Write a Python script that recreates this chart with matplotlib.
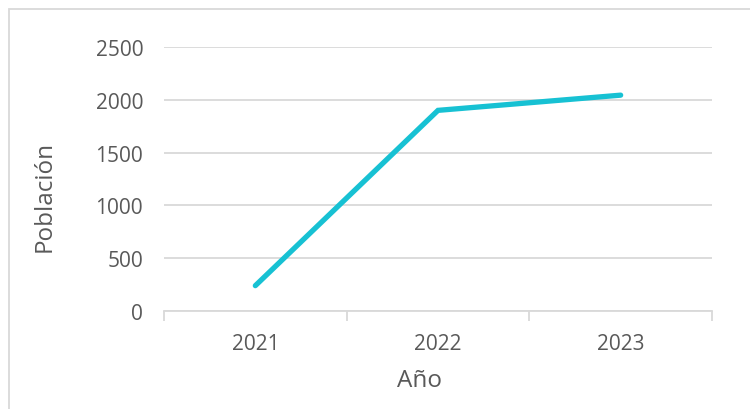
import matplotlib
matplotlib.use('Agg')
import matplotlib.pyplot as plt
from matplotlib.patches import Rectangle

years = ['2021', '2022', '2023']
poblacion = [240, 1900, 2044]
yticks = [0, 500, 1000, 1500, 2000, 2500]

plt.rcParams['font.family'] = ['Open Sans', 'DejaVu Sans']
gray = '#595959'

fig = plt.figure(figsize=(7.5, 4.1), dpi=100)
ax = fig.add_axes([164/750, 1-312/410, (712-164)/750, (312-48)/410])

x = range(len(years))
ax.plot(x, poblacion, color='#17c1d3', lw=3.8, solid_capstyle='round', solid_joinstyle='miter', zorder=3)

ax.set_xlim(-0.5, len(years)-0.5)
ax.set_ylim(0, 2500)
ax.set_yticks(yticks)
ax.set_yticklabels([str(v) for v in yticks], fontsize=15, color=gray)
ax.set_xticks(list(x))
ax.set_xticklabels(years, fontsize=15, color=gray)
ax.tick_params(axis='y', length=0, pad=15)
ax.tick_params(axis='x', length=0, pad=16)
# category boundary ticks
ax.set_xticks([i-0.5 for i in range(len(years)+1)], minor=True)
ax.tick_params(axis='x', which='minor', length=7, width=1.3, color='#d9d9d9', direction='out')

ax.grid(axis='y', color='#d9d9d9', lw=1.3)
ax.set_axisbelow(True)
for s in ['top', 'right', 'left']:
    ax.spines[s].set_visible(False)
ax.spines['bottom'].set_color('#d9d9d9')
ax.spines['bottom'].set_linewidth(1.3)

ax.set_ylabel('Población', fontsize=17.5, color=gray, va='center')
ax.yaxis.set_label_coords(-0.217, 0.436)
ax.set_xlabel('Año', fontsize=17.5, color=gray, va='center')
ax.xaxis.set_label_coords(0.467, -0.261)

fig.patches.append(Rectangle((9/750, -0.1), 1.2, 1-10/410+0.1, transform=fig.transFigure,
                             fill=False, edgecolor='#d9d9d9', lw=1.3))

fig.savefig('out.png', dpi=100)
